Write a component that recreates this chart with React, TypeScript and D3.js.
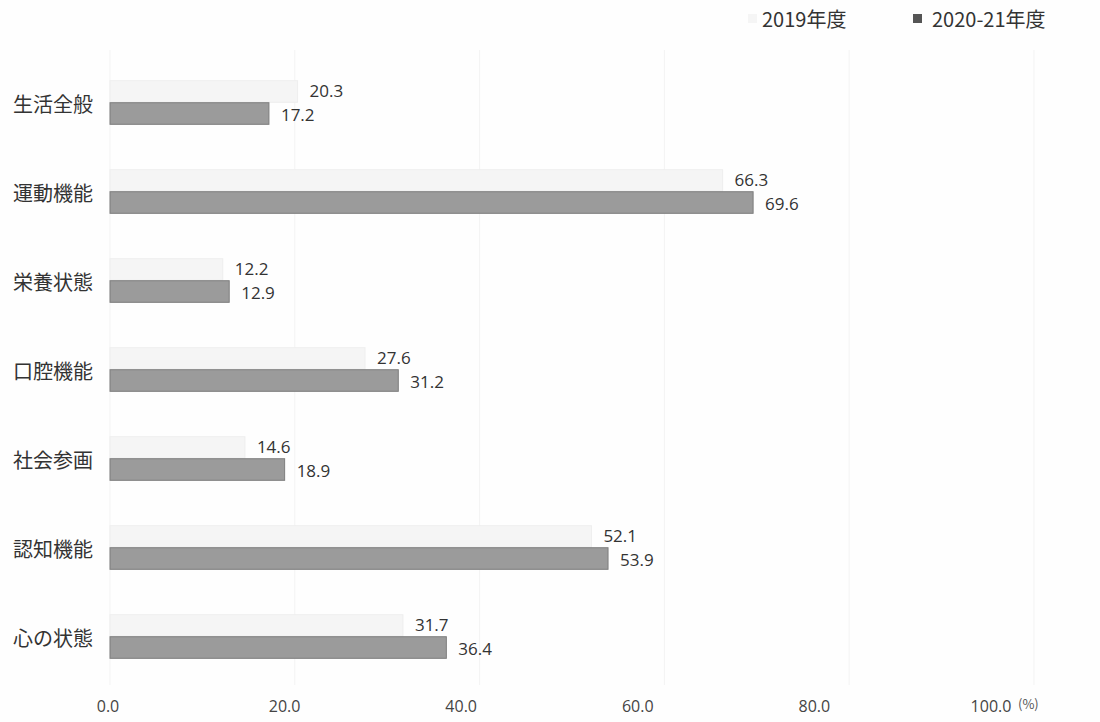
import React from "react";
import * as d3 from "d3";

const categories = ["生活全般", "運動機能", "栄養状態", "口腔機能", "社会参画", "認知機能", "心の状態"];
const series = ["2019年度", "2020-21年度"];
const values2019 = [20.3, 66.3, 12.2, 27.6, 14.6, 52.1, 31.7];
const values2020 = [17.2, 69.6, 12.9, 31.2, 18.9, 53.9, 36.4];
const xTicks = [0, 20, 40, 60, 80, 100];

const W = 1100;
const H = 722;
const FONT = "'Noto Sans CJK JP', 'Noto Sans', sans-serif";
const NUMFONT = "'Open Sans', 'Noto Sans', sans-serif";

export default function App() {
  const x = d3.scaleLinear().domain([0, 100]).range([110, 1034]);
  // tick labels in the reference sit on a slightly compressed spacing
  const xLabel = d3.scaleLinear().domain([0, 100]).range([108, 991]);
  const y0 = d3
    .scaleBand<string>()
    .domain(categories)
    .range([58, 681])
    .paddingInner(0.5)
    .paddingOuter(0.25);
  const y1 = d3.scaleBand<string>().domain(series).range([0, y0.bandwidth()]).padding(0.02);
  const data = [values2019, values2020];
  const fills = ["#f5f5f5", "#9b9b9b"];
  const strokes = ["#eeeeee", "#7d7d7d"];

  return (
    <svg
      width={W}
      height={H}
      style={{ position: "absolute", left: 0, top: 0, background: "#fff" }}
      fontFamily={FONT}
    >
      <rect x={0} y={0} width={W} height={H} fill="#fefefe" />
      {xTicks.map((t) => (
        <line key={"g" + t} x1={x(t)} x2={x(t)} y1={50} y2={685} stroke="#f3f3f3" strokeWidth={1} />
      ))}
      {categories.map((c, i) => (
        <g key={c}>
          <text
            x={93}
            y={(y0(c) as number) + y0.bandwidth() / 2 + 1}
            textAnchor="end"
            dominantBaseline="central"
            fontSize={20}
            fill="#333"
          >
            {c}
          </text>
          {series.map((s, k) => {
            const v = data[k][i];
            const yy = (y0(c) as number) + (y1(s) as number);
            return (
              <g key={s}>
                <rect
                  x={x(0)}
                  y={yy}
                  width={x(v) - x(0)}
                  height={y1.bandwidth()}
                  fill={fills[k]}
                  stroke={strokes[k]}
                  strokeWidth={1}
                />
                <text
                  x={x(v) + 12}
                  y={yy + y1.bandwidth() / 2 + (k === 0 ? -1 : 1)}
                  dominantBaseline="central"
                  fontSize={17}
                  fill="#333"
                  fontFamily={NUMFONT}
                >
                  {v.toFixed(1)}
                </text>
              </g>
            );
          })}
        </g>
      ))}
      {xTicks.map((t) => (
        <text
          key={"t" + t}
          x={xLabel(t)}
          y={706}
          textAnchor="middle"
          dominantBaseline="central"
          fontSize={16}
          fill="#444"
          fontFamily={NUMFONT}
        >
          {t.toFixed(1)}
        </text>
      ))}
      <text x={1018} y={703} dominantBaseline="central" fontSize={13} fill="#555">
        (%)
      </text>
      {/* legend */}
      <rect x={748} y={14} width={9} height={9} fill="#f5f5f5" />
      <text x={762} y={18} dominantBaseline="central" fontSize={20} fill="#333">
        {series[0]}
      </text>
      <rect x={913} y={14} width={9} height={9} fill="#555" />
      <text x={932} y={18} dominantBaseline="central" fontSize={20} fill="#333">
        {series[1]}
      </text>
    </svg>
  );
}
